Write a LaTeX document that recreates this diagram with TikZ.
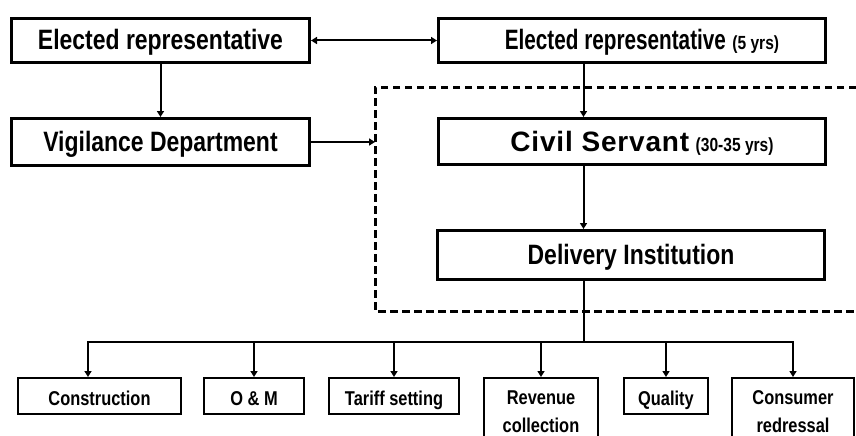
\documentclass[tikz,border=0pt]{standalone}
\usepackage{fontspec}
\setmainfont{Liberation Sans}[FakeStretch=0.82]
\usetikzlibrary{arrows.meta}
\newcommand{\yrs}[1]{{\fontsize{19}{22}\selectfont #1}}
\tikzset{
	topbox/.style    ={rectangle, draw=black, line width=3pt, fill=white, minimum width=298pt, minimum height=44pt, text height=19pt, text depth=0pt, font=\bfseries\fontsize{28}{32}\selectfont},
	leafbox/.style   ={rectangle, draw=black, line width=2pt, fill=white, anchor=north, minimum height=36pt, text height=18pt, text depth=0pt, font=\bfseries\fontsize{20}{28}\selectfont},
	leafboxtwo/.style={rectangle, draw=black, line width=2pt, fill=white, anchor=north, align=center, inner ysep=13pt, font=\bfseries\fontsize{20}{28}\selectfont},
	flowarrow/.style ={-{Triangle[length=6pt,width=7pt]}, line width=2pt},
	botharrow/.style ={{Triangle[length=6pt,width=7pt]}-{Triangle[length=6pt,width=7pt]}, line width=2pt},
	dashline/.style  ={line width=3pt, dash pattern=on 7.5pt off 4.5pt},
}
\begin{document}
\begin{tikzpicture}[x=1pt, y=-1pt]
	\fill[white] (0,0) rectangle (856,436);
	\useasboundingbox (0,0) rectangle (856,436);
	% dashed frame round the bureaucracy
	\coordinate (dtl) at (375,87);
	\coordinate (dbl) at (375,311);
	\draw[dashline] (856,87) -- (dtl) -- (dbl) -- (856,311);
	% top blocks
	\node[topbox] (er1) at (160.5,40.5) {Elected representative};
	\node[topbox, minimum width=387pt] (er2) at (632,40.5) {\hspace*{20pt}{\addfontfeature{FakeStretch=0.74}Elected representative} \yrs{(5 yrs)}};
	\node[topbox, minimum height=47pt] (vig) at (160.5,142) {Vigilance Department};
	\node[topbox, minimum width=387pt, minimum height=46pt] (civil) at (632,141.5) {\hspace*{20pt}{\addfontfeature{FakeStretch=1,LetterSpace=3}Civil Servant} \yrs{(30-35 yrs)}};
	\node[topbox, minimum width=387pt, minimum height=49pt] (deliv) at (631,255) {Delivery Institution};
	% functions
	\node[leafbox, minimum width=163pt] (cons) at (99.5,377) {Construction};
	\node[leafbox, minimum width=100pt] (om) at (254,377) {O \& M};
	\node[leafbox, minimum width=130pt] (tariff) at (394,377) {Tariff setting};
	\node[leafboxtwo, minimum width=114pt] (rev) at (541,377) {Revenue\\collection};
	\node[leafbox, minimum width=84pt] (qual) at (666,377) {Quality};
	\node[leafboxtwo, minimum width=122pt] (redr) at (793,377) {Consumer\\redressal};
	% connectors
	\coordinate (split) at (583.5,342);
	\draw[botharrow] (er1.east) -- (er2.west);
	\draw[flowarrow] (er1) -- (vig);
	\draw[flowarrow] (vig.east) -- (vig.east -| dtl);
	\draw[flowarrow] (er2.south -| split) -- (civil.north -| split);
	\draw[flowarrow] (civil.south -| split) -- (deliv.north -| split);
	\draw[line width=2pt] (deliv.south -| split) -- (split);
	\draw[flowarrow] (split) -| ([xshift=-11.5pt]cons.north);
	\foreach \n in {om,tariff,rev,qual,redr}
		\draw[flowarrow] (split) -| (\n.north);
\end{tikzpicture}
\end{document}
